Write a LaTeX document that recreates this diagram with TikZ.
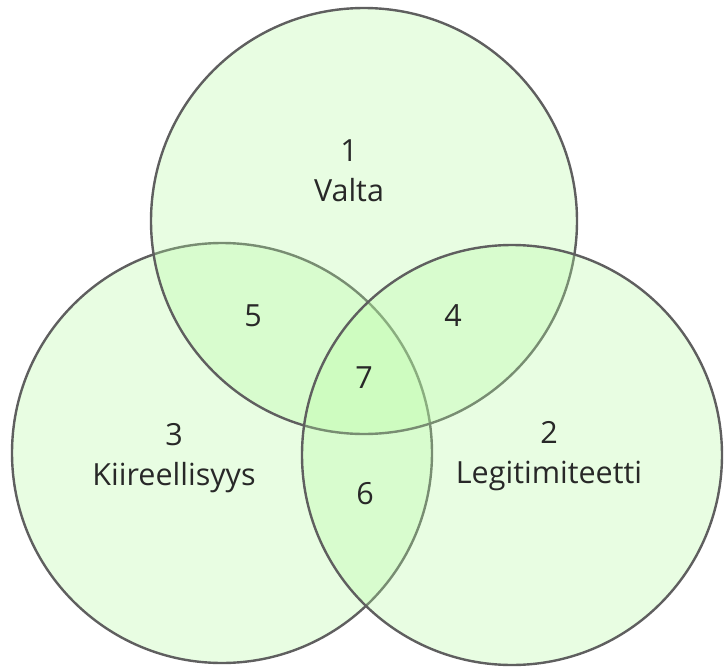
\documentclass[tikz,border=0pt]{standalone}
\usepackage{fontspec}
\setmainfont{Open Sans}
\definecolor{venngreen}{RGB}{180,250,160}
\definecolor{vennline}{RGB}{95,95,95}
\definecolor{venntext}{RGB}{40,40,40}
\tikzset{
  venncircle/.style={circle, draw=vennline, line width=2.4pt, fill=venngreen, fill opacity=0.3, draw opacity=1, inner sep=0pt, minimum size=#1},
  vennlabel/.style={text=venntext, font=\fontsize{30.5}{40}\selectfont, align=center, inner sep=0pt},
}
\begin{document}
\begin{tikzpicture}[x=1pt,y=-1pt]
\useasboundingbox (0,0) rectangle (724,667);
\node[venncircle=420pt] (c3) at (222,453) {};
\node[venncircle=426pt] (c1) at (364,221) {};
\node[venncircle=420pt] (c2) at (512,455) {};
\node[vennlabel] (l1) at (349,171) {1\\Valta};
\node[vennlabel] (l2) at (549,456) {2\\Legitimiteetti};
\node[vennlabel] (l3) at (174,458) {3\\Kiireellisyys};
\node[vennlabel] (l5) at (253,316) {5};
\node[vennlabel] (l4) at (453,316) {4};
\node[vennlabel] (l7) at (364,378) {7};
\node[vennlabel] (l6) at (365,494) {6};
\end{tikzpicture}
\end{document}
